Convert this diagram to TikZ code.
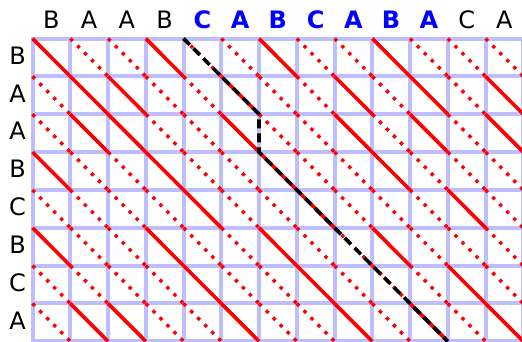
\documentclass[tikz,border=0pt]{standalone}
\usepackage{fontspec}
\setmainfont{DejaVu Sans}
\definecolor{gridblue}{RGB}{190,190,255}
\definecolor{pureblue}{RGB}{0,0,255}
\begin{document}
\begin{tikzpicture}[x=1pt,y=-1pt,
  gridline/.style={draw=gridblue,line width=4pt,line cap=rect},
  matchline/.style={draw=red,line width=3.6pt},
  missline/.style={draw=red,line width=3.4pt,dash pattern=on 3.4pt off 6.5pt},
  pathline/.style={draw=black,line width=3.6pt,dash pattern=on 9pt off 5pt},
  toplabel/.style={font=\fontsize{24}{24}\selectfont,text=black,inner sep=0pt},
  toplabelhi/.style={font=\fontsize{24}{24}\selectfont\bfseries,text=pureblue,inner sep=0pt},
  sidelabel/.style={font=\fontsize{24}{24}\selectfont,text=black,inner sep=0pt}]
\useasboundingbox (0,0) rectangle (522,341);
\def\cw{37.75}
\def\ch{37.85}
\def\ox{32.5}
\def\oy{38.5}
% grid points
\foreach \i in {0,...,13}{
  \foreach \j in {0,...,8}{
    \coordinate (g-\i-\j) at ({\ox+\cw*\i},{\oy+\ch*\j});
  }
}
% grid lines
\foreach \i in {0,...,13}{ \draw[gridline] (g-\i-0) -- (g-\i-8); }
\foreach \j in {0,...,8}{ \draw[gridline] (g-0-\j) -- (g-13-\j); }
% diagonals
\foreach \c [count=\ci from 0] in {B,A,A,B,C,A,B,C,A,B,A,C,A}{
  \foreach \r [count=\rj from 0] in {B,A,A,B,C,B,C,A}{
    \pgfmathtruncatemacro\ni{\ci+1}
    \pgfmathtruncatemacro\nj{\rj+1}
    \ifx\c\r
      \draw[matchline] (g-\ci-\rj) -- (g-\ni-\nj);
    \else
      \draw[missline] (g-\ci-\rj) -- (g-\ni-\nj);
    \fi
  }
}
% alignment path
\draw[pathline] (g-4-0) -- (g-6-2) -- (g-6-3) -- (g-11-8);
% column labels
\foreach \c [count=\ci from 0] in {B,A,A,B}{
  \node[toplabel] (col-\ci) at ({\ox+\cw*(\ci+0.5)},19.5) {\c};
}
\foreach \c [count=\ci from 4] in {C,A,B,C,A,B,A}{
  \node[toplabelhi] (col-\ci) at ({\ox+\cw*(\ci+0.5)},19.5) {\c};
}
\foreach \c [count=\ci from 11] in {C,A}{
  \node[toplabel] (col-\ci) at ({\ox+\cw*(\ci+0.5)},19.5) {\c};
}
% row labels
\foreach \r [count=\rj from 0] in {B,A,A,B,C,B,C,A}{
  \node[sidelabel] (row-\rj) at (17.5,{\oy+\ch*(\rj+0.5)-2}) {\r};
}
\end{tikzpicture}
\end{document}
